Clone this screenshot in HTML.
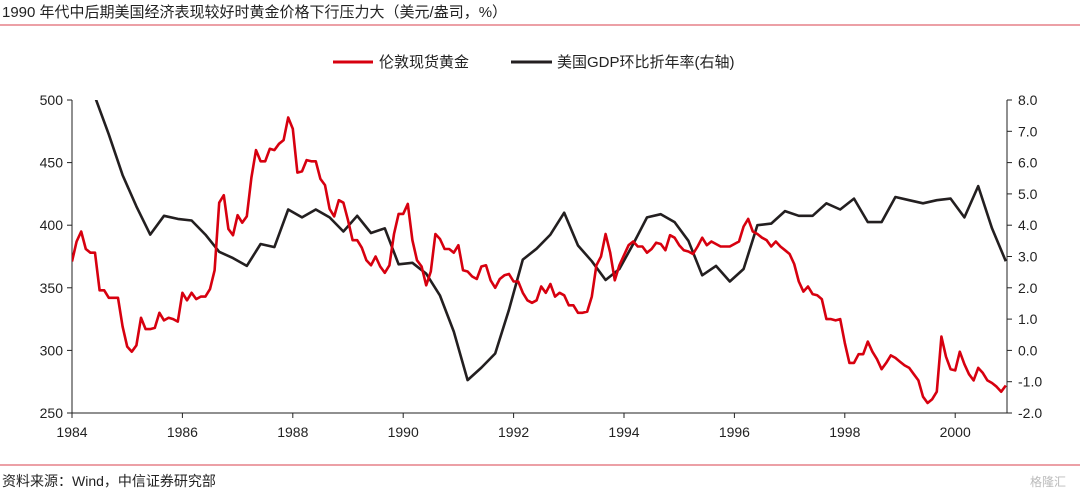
<!DOCTYPE html>
<html><head><meta charset="utf-8"><style>
html,body{margin:0;padding:0;background:#fff;}
svg{display:block;font-family:"Liberation Sans","Noto Sans CJK SC",sans-serif;}
</style></head><body>
<svg id="chart" width="1080" height="493" viewBox="0 0 1080 493">
<text x="2" y="17" font-size="15" fill="#222">1990 年代中后期美国经济表现较好时黄金价格下行压力大（美元/盎司，%）</text>
<line x1="0" y1="25" x2="1080" y2="25" stroke="#e06870" stroke-width="1.2"/>
<g>
<g><line x1="333" y1="62" x2="373" y2="62" stroke="#d7000f" stroke-width="3"/><text x="379" y="67" font-size="15" fill="#222">伦敦现货黄金</text></g>
<g><line x1="511" y1="62" x2="552" y2="62" stroke="#231f20" stroke-width="3"/><text x="557" y="67" font-size="15" fill="#222">美国GDP环比折年率(右轴)</text></g>
</g>
<g id="axes"></g>
<g id="plot"></g>
<line x1="0" y1="465" x2="1080" y2="465" stroke="#e06870" stroke-width="1.2"/>
<text x="2" y="486" font-size="14" fill="#222">资料来源：Wind，中信证券研究部</text>
<text x="1030" y="486" font-size="12" fill="#bbb">格隆汇</text>
</svg>
<script>
const xTicks = [1984,1986,1988,1990,1992,1994,1996,1998,2000];
const leftTicks = [250,300,350,400,450,500];
const rightTicks = [-2,-1,0,1,2,3,4,5,6,7,8];
const goldStart = 1984.0;
const goldPrice = [371,387,395,381,378,378,348,348,342,342,342,
319,303,299,304,326,317,317,318,330,324,326,
325,323,346,340,346,341,343,343,349,364,
418,424,397,392,408,402,407,438,460,451,
451,461,460,465,468,486,477,442,443,452,451,
451,437,432,413,407,420,418,404,388,388,
382,372,368,375,367,362,368,393,409,409,
417,388,372,
367,352,363,393,389,381,381,378,384,364,
363,359,357,367,368,356,350,357,360,361,
355,355,346,340,338,340,351,
346,353,343,346,344,336,336,330,330,331,
343,368,375,393,378,356,368,376,384,387,
383,383,378,381,386,385,380,392,390,384,
380,379,377,383,390,384,387,385,383,383,
383,385,387,399,405,395,393,390,388,383,
387,383,380,377,369,355,347,351,345,344,
341,325,325,324,325,306,290,290,297,297,
307,299,293,285,290,296,294,291,288,
286,281,276,263,258,261,267,311,
295,285,284,299,289,281,276,286,282,276,
274,271,267,272];
const gdpStart = 1984 + 2/12;
const gdpGrowth = [9.5,8.1,6.9,5.6,4.6,3.7,4.3,4.2,4.15,3.7,3.15,2.95,2.7,3.4,3.3,4.5,4.25,4.5,4.25,3.8,4.3,3.75,3.9,2.75,2.8,2.45,1.75,0.6,-0.95,-0.55,-0.1,1.3,2.9,3.25,
3.7,4.4,3.35,2.85,2.25,2.6,3.4,4.25,4.35,4.1,3.5,2.4,2.7,2.2,2.6,4.0,4.05,4.45,4.3,4.3,4.7,4.5,4.85,4.1,4.1,4.9,4.8,4.7,4.8,4.85,4.25,5.25,3.9,2.85];

const NS='http://www.w3.org/2000/svg';
const L=72,R=1007,T=100,B=413;
const X=y=>L+(y-1984)*55.2;
const YL=v=>B-(v-250)/250*(B-T);
const YR=v=>B-(v+2)/10*(B-T);
function mk(tag,attrs,parent){const e=document.createElementNS(NS,tag);for(const k in attrs)e.setAttribute(k,attrs[k]);parent.appendChild(e);return e;}
const axes=document.getElementById('axes'), plot=document.getElementById('plot');
const svg=document.getElementById('chart');
const defs=mk('defs',{},svg);
const cp=mk('clipPath',{id:'clip'},defs);
mk('rect',{x:L,y:T,width:R-L,height:B-T},cp);

let a=mk('line',{x1:L,y1:T,x2:L,y2:B,stroke:'#222','stroke-width':1},axes);


a=mk('line',{x1:R,y1:T,x2:R,y2:B,stroke:'#222','stroke-width':1},axes);


a=mk('line',{x1:L,y1:B,x2:R,y2:B,stroke:'#222','stroke-width':1},axes);



xTicks.forEach(t=>{
  const x=X(t);
  mk('line',{x1:x,y1:B,x2:x,y2:B+5,stroke:'#222'},axes);
  const tx=mk('text',{x:x,y:B+24,'font-size':14,'text-anchor':'middle',fill:'#222'},axes);
  tx.textContent=t;
  
  
});
leftTicks.forEach(t=>{
  const y=YL(t);
  mk('line',{x1:L-5,y1:y,x2:L,y2:y,stroke:'#222'},axes);
  const tx=mk('text',{x:L-9,y:y+5,'font-size':14,'text-anchor':'end',fill:'#222'},axes);
  tx.textContent=t;
  
  
});
rightTicks.forEach(t=>{
  const y=YR(t);
  mk('line',{x1:R,y1:y,x2:R+5,y2:y,stroke:'#222'},axes);
  const tx=mk('text',{x:R+11,y:y+5,'font-size':14,'text-anchor':'start',fill:'#222'},axes);
  tx.textContent=t.toFixed(1);
  
  
});

const gdpPts=gdpGrowth.map((v,i)=>X(gdpStart+i*0.25).toFixed(1)+','+YR(v).toFixed(1)).join(' ');
const gp=mk('polyline',{points:gdpPts,fill:'none',stroke:'#231f20','stroke-width':2.6,'stroke-linejoin':'round','clip-path':'url(#clip)'},plot);



const goldPts=goldPrice.map((v,i)=>X(goldStart+i/12).toFixed(1)+','+YL(v).toFixed(1)).join(' ');
const gl=mk('polyline',{points:goldPts,fill:'none',stroke:'#d7000f','stroke-width':2.6,'stroke-linejoin':'round','clip-path':'url(#clip)'},plot);


</script>
</body></html>
